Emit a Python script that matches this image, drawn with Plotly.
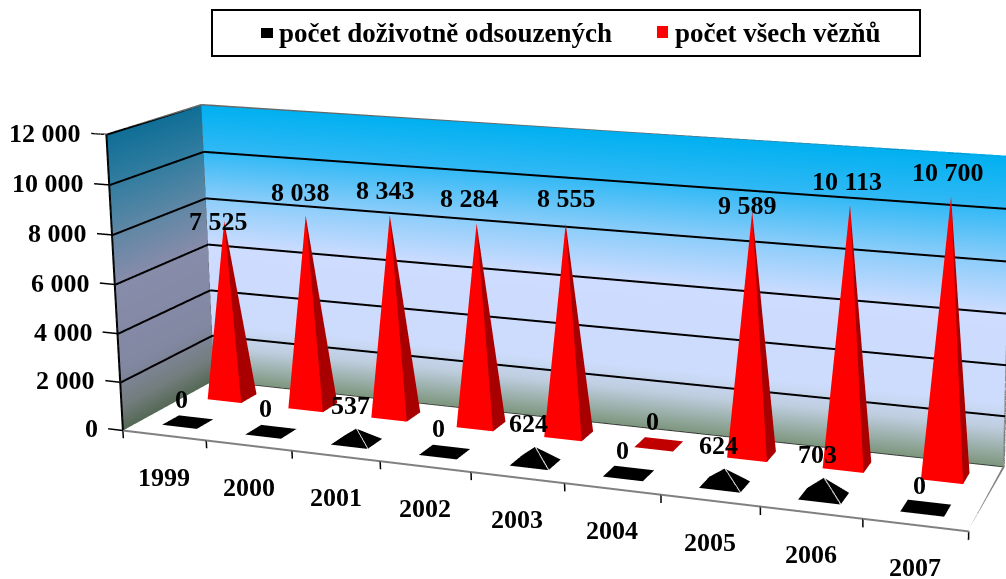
import plotly.graph_objects as go

years = ["1999","2000","2001","2002","2003","2004","2005","2006","2007"]
lifers = [0,0,537,0,624,0,624,703,0]
prisoners = [7525,8038,8343,8284,8555,0,9589,10113,10700]
z_ticks = [0,2000,4000,6000,8000,10000,12000]
z_tick_labels = ["0","2 000","4 000","6 000","8 000","10 000","12 000"]
series_names = ["počet doživotně odsouzených","počet všech vězňů"]
def fmt(v): return f"{v:,}".replace(","," ")

# window and over-sized canvas (a long lens needs a tall canvas; only the window shows)
W,H=1006,579
CW,CH=1450,1710
OY=744
def PX(x): return x/CW
def PY(y): return 1-(y+OY)/CH

XR=(-0.3,9.0); YR=(0.0,1.0); ZR=(-400.0,12000.0)
ex,ey,ez,cx,cy,cz=1.401,-3.250,0.998,0.145,0.635,0.240
ax,ay,az=1.621,0.310,0.571

data=[]
flat=dict(ambient=1,diffuse=0,specular=0,roughness=1,fresnel=0)
back_stops=[(12000,(0,176,240)),(10000,(50,185,245)),(8000,(140,205,250)),(6000,(205,220,255)),(2500,(205,220,252)),(1500,(190,205,222)),(0,(125,150,125))]
left_stops=[(12000,(15,110,150)),(10000,(50,125,160)),(8000,(95,135,165)),(6000,(135,140,170)),(2500,(130,135,162)),(1000,(115,125,125)),(0,(85,105,85))]
def wall(stops,P):
    xs,ys,zs,cols,i,j,k=[],[],[],[],[],[],[]
    for n,(z,c) in enumerate(stops):
        a,b=P
        xs+=[a[0],b[0]];ys+=[a[1],b[1]];zs+=[z,z]
        cols+=[f"rgb{c}".replace(" ","")]*2
        if n:
            m=2*n
            i+=[m-2,m-1];j+=[m-1,m+1];k+=[m,m]
    return go.Mesh3d(x=xs,y=ys,z=zs,i=i,j=j,k=k,vertexcolor=cols,lighting=flat,hoverinfo="skip",showlegend=False)
data.append(wall(back_stops,((0,1),(9,1))))
data.append(wall(left_stops,((0,0),(0,1))))
def lines(segs,color,width):
    xs,ys,zs=[],[],[]
    for a,b in segs:
        xs+=[a[0],b[0],None];ys+=[a[1],b[1],None];zs+=[a[2],b[2],None]
    return go.Scatter3d(x=xs,y=ys,z=zs,mode="lines",line=dict(color=color,width=width),hoverinfo="skip",showlegend=False)
grid=[]
for z in z_ticks[1:]:
    grid+=[((0.01,0,z),(0.01,.995,z)),((0.01,.995,z),(9,.995,z))]
data.append(lines(grid,"black",4))
data.append(lines([((0,1,0),(9,1,0))],"#333333",3))
data.append(lines([((0,0,0),(9,0,0)),((9,0,0),(9,1,0)),((9,1,0),(9,1,12000))],"#808080",4))
data.append(lines([((0,1,12000),(9,1,12000)),((0,0,12000),(0,1,12000)),((0,1,0),(0,1,12000))],"#666666",3))
data.append(lines([((0,0,0),(0,0,12000))],"black",4))
data.append(lines([((i,0,0),(i,0,-320)) for i in range(10)]+[((0,0,z),(-.18,0,z)) for z in z_ticks],"black",3))

BW,BD=0.21,0.09
def pyramid(vals,row,main,side,zero,name):
    xs,ys,zs,i,j,k,fc=[],[],[],[],[],[],[]
    for n,v in enumerate(vals):
        c=n+.5;o=len(xs)
        xs+=[c-BW,c+BW,c+BW,c-BW,c];ys+=[row-BD,row-BD,row+BD,row+BD,row];zs+=[0,0,0,0,v]
        if v==0:
            i+=[o,o];j+=[o+1,o+2];k+=[o+2,o+3];fc+=[zero,zero]
        else:
            i+=[o,o+1,o+3,o+2];j+=[o+1,o+2,o,o+3];k+=[o+4,o+4,o+4,o+4];fc+=[main,side,main,main]
    return go.Mesh3d(x=xs,y=ys,z=zs,i=i,j=j,k=k,facecolor=fc,flatshading=True,lighting=flat,hoverinfo="skip",name=name,showlegend=False)
data.append(pyramid(prisoners,.75,"#FF0000","#A80000","#C00000",series_names[1]))
data.append(pyramid(lifers,.25,"#000000","#000000","#000000",series_names[0]))
data.append(lines([((n+.5,.25,v),(n+.5+BW,.25-BD,0)) for n,v in enumerate(lifers) if v],"white",3))

FONT="Liberation Serif"
ann=[]
def T(x,y,z,t,xs=0,ys=0,size=26,anchor="center"):
    ann.append(dict(x=x,y=y,z=z,text=f"<b>{t}</b>",showarrow=False,xshift=xs,yshift=ys,xanchor=anchor,font=dict(family=FONT,size=size,color="black")))
total_shifts={0:(-6,0),1:(-5,23),2:(-4,25),3:(-7,25),4:(1,25),5:(-6,23),6:(-5,6),7:(-3,24),8:(-3,24)}
for n,v in enumerate(prisoners):
    s=total_shifts[n]; T(n+.5,.75,v,fmt(v),s[0],s[1])
for n,v in enumerate(lifers): T(n+.5,.25,v,fmt(v),-6,23)
for z,t in zip(z_ticks,z_tick_labels): T(-.18,0,z,t,-8,0,anchor="right")
for n,t in enumerate(years): T(n+.5,0,0,t,0,-42)

fig=go.Figure(data)
def box(x0,x1,y0,y1,**k):
    return dict(type="rect",xref="paper",yref="paper",x0=PX(x0),x1=PX(x1),y0=PY(y1),y1=PY(y0),**k)
fig.update_layout(width=CW,height=CH,margin=dict(l=0,r=0,t=0,b=0),paper_bgcolor="white",showlegend=False,
 scene=dict(domain=dict(x=[0,1],y=[0,1]),bgcolor="white",annotations=ann,
  xaxis=dict(visible=False,range=list(XR)),yaxis=dict(visible=False,range=list(YR)),zaxis=dict(visible=False,range=list(ZR)),
  aspectmode="manual",aspectratio=dict(x=ax,y=ay,z=az),
  camera=dict(eye=dict(x=ex,y=ey,z=ez),center=dict(x=cx,y=cy,z=cz),up=dict(x=0,y=0,z=1),projection=dict(type="perspective"))),
 shapes=[box(212,920,10,56,line=dict(color="black",width=2),fillcolor="white"),
  box(261,273,28,38,line_width=0,fillcolor="black"),
  box(657,668,26,38,line_width=0,fillcolor="#FF0000")],
 annotations=[dict(xref="paper",yref="paper",x=PX(277),y=PY(33),xanchor="left",yanchor="middle",text=f"<b>{series_names[0]}</b>",showarrow=False,font=dict(family=FONT,size=27,color="black")),
  dict(xref="paper",yref="paper",x=PX(673),y=PY(33),xanchor="left",yanchor="middle",text=f"<b>{series_names[1]}</b>",showarrow=False,font=dict(family=FONT,size=27,color="black"))])
fig.write_html("out.html",config=dict(displayModeBar=False),
 post_script=f"document.documentElement.style.overflow='hidden';document.body.style.overflow='hidden';document.body.style.margin='-{OY}px 0 0 0';")
